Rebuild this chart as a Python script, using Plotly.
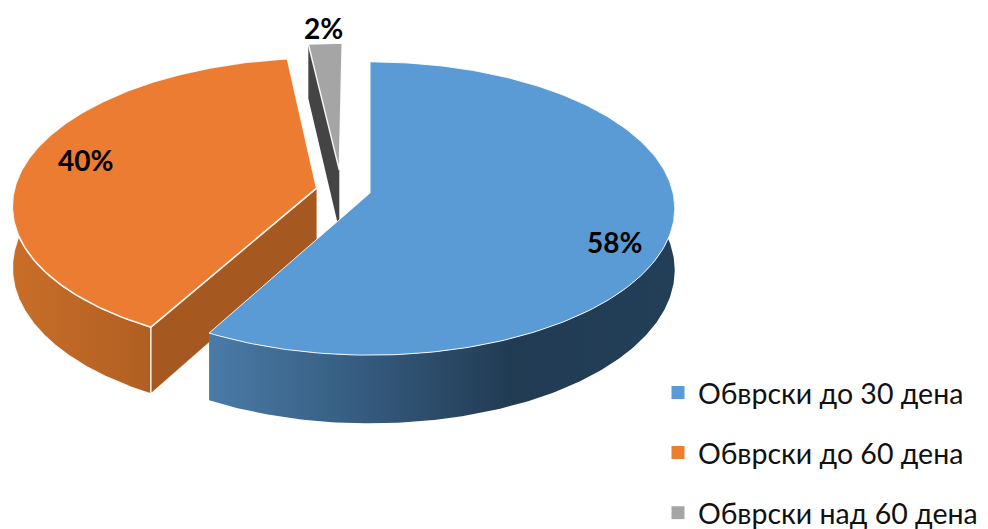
import numpy as np
import plotly.graph_objects as go

categories = ["Обврски до 30 дена", "Обврски до 60 дена", "Обврски над 60 дена"]
values = [58, 40, 2]
labels = ["58%", "40%", "2%"]
colors = ["#5B9BD5", "#ED7D31", "#A5A5A5"]
label_x = [614, 85, 323]
label_y = [242, 160, 28]

W, H = 988, 529
CX, CY, RX, RY, K, DEPTH = 370, 193, 303, 145, 0.1058, 61
# offset of each slice in disk coordinates
offsets = [(0.0, 0.0), (-0.177, -0.034), (-0.103, -0.16)]
EDGE = "rgba(255,255,255,0.9)"


def project(u, v, d=0.0):
    s = 1 / (1 - K * v)
    return CX + RX * u * s, CY + RY * v * s + d * s


def arc(start, end, off, d=0.0, n=200):
    t = np.radians(np.linspace(start, end, n))
    return project(np.sin(t) + off[0], -np.cos(t) + off[1], d)


def poly(x, y, color=None, grad=None, line=EDGE, lw=0):
    kw = dict(fillgradient=grad) if grad else dict(fillcolor=color)
    return go.Scatter(x=list(x), y=list(y), mode="lines", fill="toself", showlegend=False,
                      hoverinfo="skip", line=dict(color=line, width=lw), **kw)


spans = []
a = 0.0
for val in values:
    spans.append((a, a + val * 3.6))
    a += val * 3.6

fig = go.Figure()

# gray slice
s, e = spans[2]
off = offsets[2]
ax, ay = project(off[0], off[1])
ax2, ay2 = project(off[0], off[1], DEPTH)
ex, ey = project(np.sin(np.radians(s)) + off[0], -np.cos(np.radians(s)) + off[1])
ex2, ey2 = project(np.sin(np.radians(s)) + off[0], -np.cos(np.radians(s)) + off[1], DEPTH)
fig.add_trace(poly([ax, ex, ex2, ax2], [ay, ey, ey2, ay2], "#444444"))
x, y = arc(s, e, off)
fig.add_trace(poly(np.r_[ax, x, ax], np.r_[ay, y, ay], colors[2], lw=1.5))

# orange slice
s, e = spans[1]
off = offsets[1]
ax, ay = project(off[0], off[1])
ax2, ay2 = project(off[0], off[1], DEPTH)
x, y = arc(s, 300, off)
x2, y2 = arc(s, 300, off, DEPTH)
fig.add_trace(poly(np.r_[x, x2[::-1]], np.r_[y, y2[::-1]],
                   grad=dict(type="horizontal", colorscale=[[0, "#C96E29"], [1, "#B05F22"]]),
                   lw=1.5))
ex, ey = project(np.sin(np.radians(s)) + off[0], -np.cos(np.radians(s)) + off[1])
ex2, ey2 = project(np.sin(np.radians(s)) + off[0], -np.cos(np.radians(s)) + off[1], DEPTH)
fig.add_trace(poly([ax, ex, ex2, ax2], [ay, ey, ey2, ay2], "#A55920", lw=1.5))
x, y = arc(s, e, off)
fig.add_trace(poly(np.r_[ax, x, ax], np.r_[ay, y, ay], "#EB7C31", lw=1.5))

# blue slice
s, e = spans[0]
off = offsets[0]
x, y = arc(70, e, off)
x2, y2 = arc(70, e, off, DEPTH)
fig.add_trace(poly(np.r_[x, x2[::-1]], np.r_[y, y2[::-1]],
                   grad=dict(type="horizontal",
                             colorscale=[[0, "#4A7BA7"], [0.35, "#34597C"], [0.65, "#213B53"], [1, "#233F58"]])))
ax, ay = project(off[0], off[1])
x, y = arc(s, e, off)
fig.add_trace(poly(np.r_[ax, x, ax], np.r_[ay, y, ay], colors[0], lw=1))

# legend entries
for name, col in zip(categories, colors):
    fig.add_trace(go.Scatter(x=[None], y=[None], mode="markers", name=name, legendgroup=name,
                             marker=dict(symbol="square", size=13, color=col), hoverinfo="skip"))

for t, lx, ly in zip(labels, label_x, label_y):
    fig.add_annotation(x=lx, y=ly, text=f"<b>{t}</b>", showarrow=False,
                       font=dict(family="Lato, Noto Sans", size=28, color="#000000"))

fig.update_layout(
    width=W, height=H, margin=dict(l=0, r=0, t=0, b=0, autoexpand=False), autosize=False,
    paper_bgcolor="#FFFFFF", plot_bgcolor="#FFFFFF",
    xaxis=dict(range=[0, W], visible=False, fixedrange=True),
    yaxis=dict(range=[H, 0], visible=False, fixedrange=True),
    legend=dict(x=658 / W, y=1 - 367.5 / H, xanchor="left", yanchor="top",
                font=dict(family="Lato, Noto Sans", size=28.5, color="#111111"),
                tracegroupgap=20, bgcolor="rgba(0,0,0,0)", borderwidth=0, itemclick=False,
                itemdoubleclick=False),
)
fig.write_html("out.html", config=dict(displayModeBar=False), default_width=W, default_height=H,
               post_script="document.body.style.margin='0';document.body.style.overflow='hidden';")
